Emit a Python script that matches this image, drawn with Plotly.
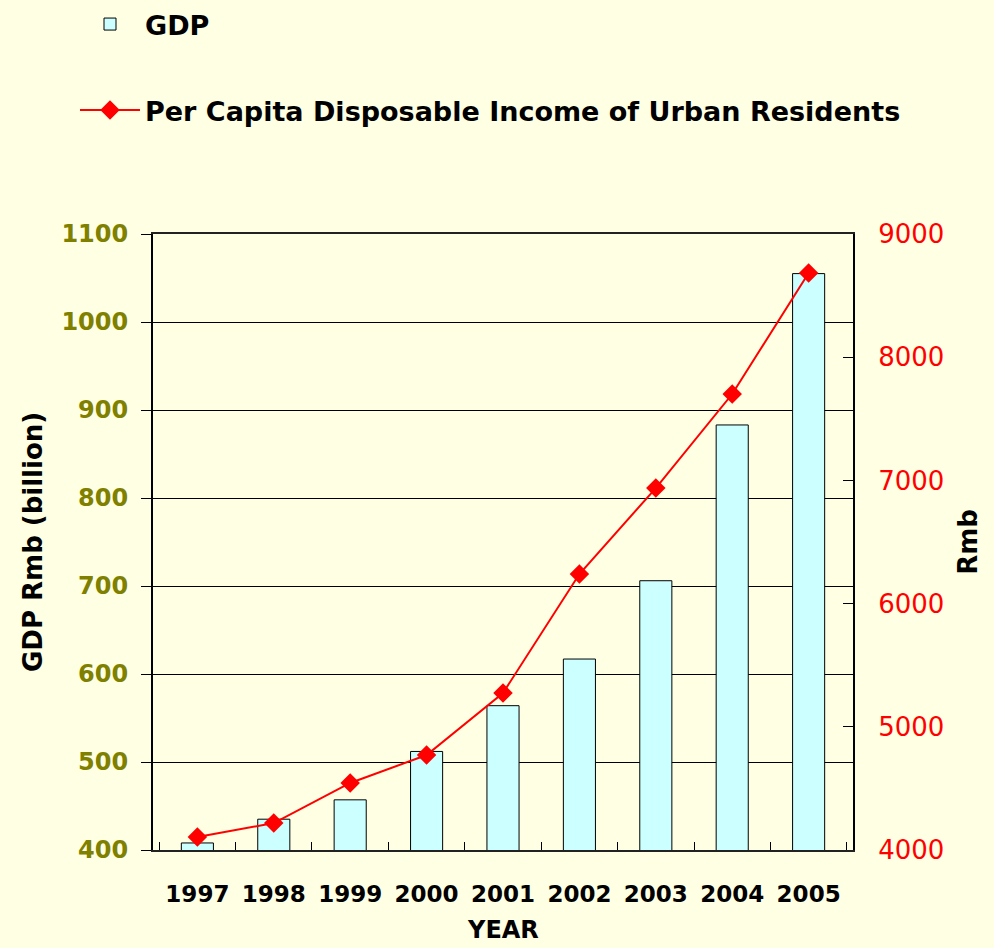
import plotly.graph_objects as go

years = ["1997", "1998", "1999", "2000", "2001", "2002", "2003", "2004", "2005"]
gdp = [408, 435, 457, 512, 564, 617, 706, 883, 1055]
income = [4105, 4219, 4544, 4771, 5274, 6240, 6938, 7701, 8683]

gdp_ticks = [400, 500, 600, 700, 800, 900, 1000, 1100]
income_ticks = [4000, 5000, 6000, 7000, 8000, 9000]

FONT = "DejaVu Sans"

def bold(size, color="#000000"):
    return dict(family=FONT, size=size, color=color, weight="bold")

fig = go.Figure()
fig.add_trace(go.Bar(
    x=years, y=gdp, name="GDP",
    marker=dict(color="#CCFFFF", line=dict(color="#000000", width=1)),
    legend="legend",
))
fig.add_trace(go.Scatter(
    x=years, y=income, name="Per Capita Disposable Income of Urban Residents",
    mode="lines+markers", yaxis="y2",
    line=dict(color="#FF0000", width=2),
    marker=dict(symbol="diamond", size=15, color="#FF0000"),
    legend="legend2",
))

fig.update_layout(
    width=994, height=948,
    margin=dict(l=153, r=141, t=234, b=98, autoexpand=False),
    paper_bgcolor="#FFFFE4",
    plot_bgcolor="rgba(0,0,0,0)",
    bargap=0.58,
    font=dict(family=FONT, size=24, color="#000000"),
    showlegend=True,
    legend=dict(x=75 / 994, y=1 + 3 / 948, xanchor="left", yanchor="top", xref="container", yref="container",
                bgcolor="rgba(0,0,0,0)", font=bold(27),
                itemwidth=60),
    legend2=dict(x=75 / 994, y=1 - 86 / 948, xanchor="left", yanchor="top", xref="container", yref="container",
                 bgcolor="rgba(0,0,0,0)", font=bold(27),
                 itemwidth=60),
    xaxis=dict(
        type="category",
        tickfont=bold(23),
        ticks="inside", ticklen=8, tickcolor="#000", tickson="boundaries",
        showline=True, linecolor="#222", linewidth=2, mirror=True,
        showgrid=False,
        ticklabelstandoff=22,
    ),
    yaxis=dict(
        range=[400, 1100], tickvals=gdp_ticks,
        tickfont=bold(24, "#808000"),
        ticks="outside", ticklen=10, tickcolor="#000",
        showline=True, linecolor="#000", linewidth=2,
        showgrid=True, gridcolor="#000", gridwidth=1,
        ticklabelstandoff=8,
    ),
    yaxis2=dict(
        overlaying="y", side="right",
        range=[4000, 9000], tickvals=income_ticks,
        tickfont=dict(family=FONT, size=26, color="#FF0000"),
        ticks="inside", ticklen=10, tickcolor="#000",
        showline=True, linecolor="#000", linewidth=2,
        showgrid=False,
        ticklabelstandoff=18,
        title=dict(text="Rmb", font=bold(26)),
    ),
    annotations=[
        dict(text="GDP Rmb (billion)", textangle=-90, font=bold(26),
             xref="paper", yref="paper", x=-(153 - 33) / 700, y=0.5,
             xanchor="center", yanchor="middle", showarrow=False),
        dict(text="YEAR", font=bold(24),
             xref="paper", yref="paper", x=0.5, y=-(930 - 850) / 616,
             xanchor="center", yanchor="middle", showarrow=False),
    ],
)

fig.write_html("out.html")
